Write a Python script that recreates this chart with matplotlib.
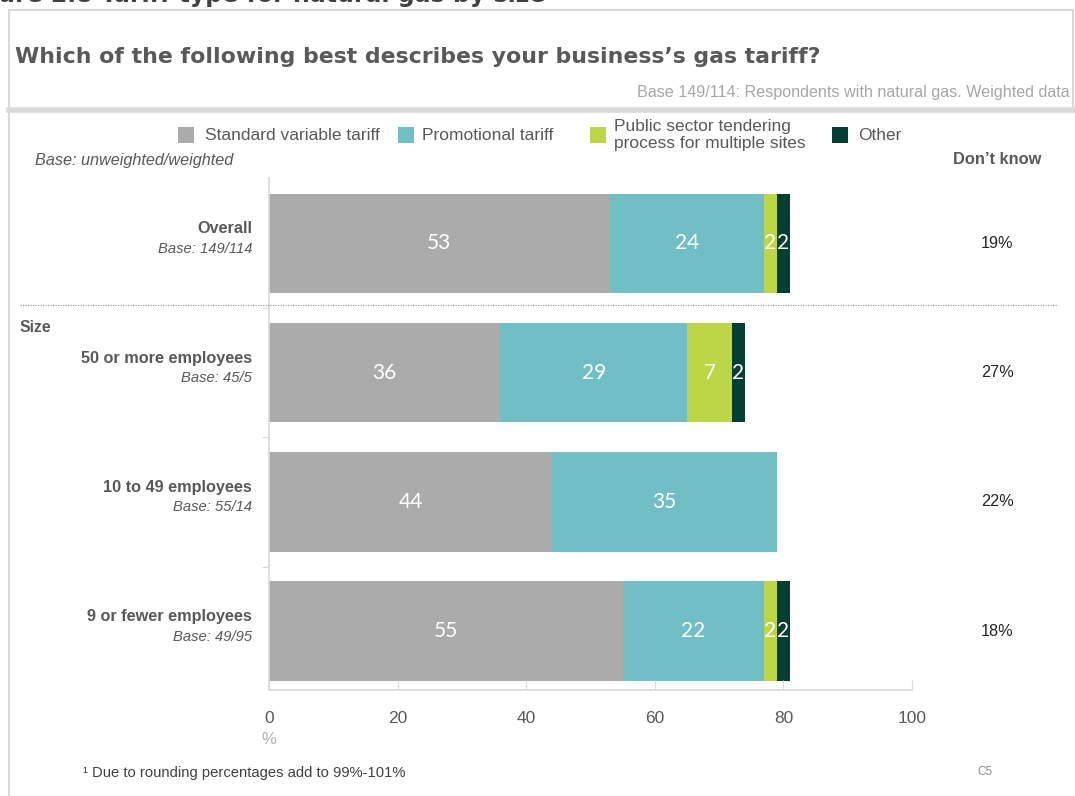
import matplotlib
matplotlib.use("Agg")
import matplotlib.pyplot as plt
from matplotlib.patches import Rectangle
from matplotlib.lines import Line2D
import numpy as np

# ---- data -------------------------------------------------------------
categories = ["Overall", "50 or more employees", "10 to 49 employees", "9 or fewer employees"]
bases = ["Base: 149/114", "Base: 45/5", "Base: 55/14", "Base: 49/95"]
series_names = ["Standard variable tariff", "Promotional tariff",
                "Public sector tendering\nprocess for multiple sites", "Other"]
standard_variable = [53, 36, 44, 55]
promotional = [24, 29, 35, 22]
public_sector = [2, 7, 0, 2]
other = [2, 2, 0, 2]
dont_know = [19, 27, 22, 18]
x_ticks = [0, 20, 40, 60, 80, 100]

colors = ["#ABABAB", "#72BEC5", "#BDD647", "#043F35"]
series = [standard_variable, promotional, public_sector, other]

W, H = 1075, 796
fig = plt.figure(figsize=(W / 100, H / 100), dpi=100)
fig.patch.set_facecolor("white")


def P(x, y):
    return (x / W, 1 - y / H)


SANS = ["Liberation Sans", "DejaVu Sans"]
NARROW = ["Liberation Sans Narrow", "Liberation Sans", "DejaVu Sans"]
DARK = "#595959"
FRAME = "#D9D9D9"

# ---- frame ------------------------------------------------------------
def fline(x0, y0, x1, y1, **kw):
    a, b = P(x0, y0)
    c, d = P(x1, y1)
    fig.add_artist(Line2D([a, c], [b, d], transform=fig.transFigure, **kw))

fline(9, 10, 9, 796, color=FRAME, lw=1.5)
fline(9, 10, 1073, 10, color=FRAME, lw=1.5)
fline(1073, 10, 1073, 108, color=FRAME, lw=1.5)
fline(9, 110, 1075, 110, color=FRAME, lw=4)

# figure heading (partly cut by the page top)
fig.text(*P(545, 2), "Figure 2.8 Tariff type for natural gas by size", ha="right",
         va="baseline", fontsize=17, fontweight="bold", color="#404040",
         family=["DejaVu Sans"])
fig.text(*P(15, 57), "Which of the following best describes your business\u2019s gas tariff?",
         ha="left", va="center", fontsize=15.8, fontweight="bold", color=DARK,
         family=["DejaVu Sans"])
fig.text(*P(1070, 92), "Base 149/114: Respondents with natural gas. Weighted data",
         ha="right", va="center", fontsize=11.6, color="#A6A6A6", family=SANS)

# ---- bars ---------------------------------------------------------------
ax = fig.add_axes([269 / W, (H - 690) / H, (912 - 269) / W, (690 - 178) / H])
y = np.arange(len(categories))
left = np.zeros(len(categories))
bar_h = 0.77
for vals, col in zip(series, colors):
    vals = np.array(vals, dtype=float)
    bars = ax.barh(y, vals, left=left, height=bar_h, color=col, edgecolor="none")
    for rect, v in zip(bars, vals):
        if v > 0:
            ax.text(rect.get_x() + rect.get_width() / 2, rect.get_y() + rect.get_height() / 2,
                    f"{int(v)}", ha="center", va="center", color="white",
                    fontsize=15, family=["Lato", "DejaVu Sans"])
    left += vals

ax.set_xlim(0, 100)
ax.set_ylim(3.455, -0.505)
ax.set_xticks(x_ticks)
ax.set_xticklabels([str(t) for t in x_ticks], family=NARROW, fontsize=12.5, color=DARK)
ax.tick_params(axis="x", direction="in", length=7, color=FRAME, pad=15)
ax.set_yticks([0.5, 1.5, 2.5])
ax.set_yticklabels([])
ax.tick_params(axis="y", direction="out", length=5, color=FRAME)
for s in ["top", "right"]:
    ax.spines[s].set_visible(False)
for s in ["left", "bottom"]:
    ax.spines[s].set_color(FRAME)
    ax.spines[s].set_linewidth(1.2)

fig.text(*P(269, 739), "%", ha="center", va="center", fontsize=12, color="#B0B0B0",
         family=NARROW)

# ---- legend -----------------------------------------------------------
leg_box_x = [178, 398, 590, 832]
leg_text_x = [205, 422, 614, 858]
for bx, tx, name, col in zip(leg_box_x, leg_text_x, series_names, colors):
    bx0, by0 = P(bx, 143)
    fig.add_artist(Rectangle((bx0, by0), 16 / W, 16 / H, transform=fig.transFigure,
                             facecolor=col, edgecolor="none"))
    fig.text(*P(tx, 135), name, ha="left", va="center", fontsize=12.5, color=DARK,
             family=SANS, linespacing=1.15)

fig.text(*P(35, 160), "Base: unweighted/weighted", ha="left", va="center",
         fontsize=11.7, style="italic", color=DARK, family=SANS)
fig.text(*P(997, 160), "Don\u2019t know", ha="center", va="center",
         fontsize=11.8, fontweight="bold", color=DARK, family=SANS)

# ---- row labels and don't know column ---------------------------------
for i, (cat, base, dk) in enumerate(zip(categories, bases, dont_know)):
    yc = ax.transData.transform((0, y[i]))[1]
    ypix = H - yc
    fig.text(*P(252, ypix - 14.5), cat, ha="right", va="center", fontsize=11.7,
             fontweight="bold", color=DARK, family=SANS)
    fig.text(*P(252, ypix + 5.5), base, ha="right", va="center", fontsize=10.6,
             style="italic", color=DARK, family=SANS)
    fig.text(*P(997, ypix), f"{dk}%", ha="center", va="center", fontsize=11.7,
             color="#262626", family=SANS)

fline(20, 305, 1057, 305, color="#A0A0A0", lw=0.9, linestyle=(0, (1, 1)))
fig.text(*P(20, 328), "Size", ha="left", va="center", fontsize=11.3,
         fontweight="bold", color=DARK, family=SANS)

# ---- footnotes ---------------------------------------------------------
fig.text(*P(83, 773), "\u00b9 Due to rounding percentages add to 99%-101%", ha="left",
         va="center", fontsize=10.6, color="#404040", family=NARROW)
fig.text(*P(985, 772), "C5", ha="center", va="center", fontsize=8.5,
         color="#8C8C8C", family=NARROW)

fig.savefig("out.png", dpi=100, facecolor="white")
